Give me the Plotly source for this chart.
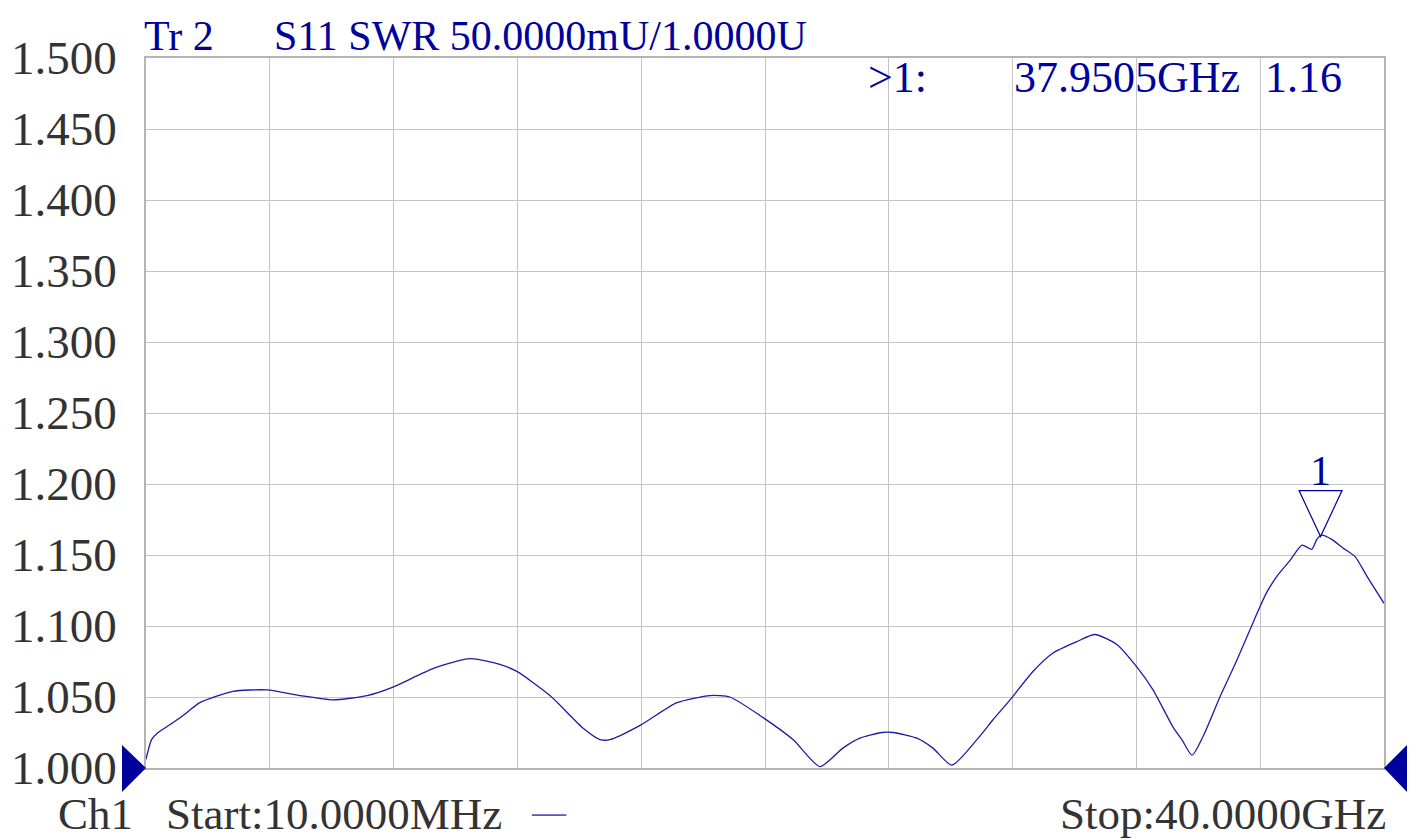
import plotly.graph_objects as go

# ---- data ----
freq_ghz = [0.01, 0.03, 0.19, 0.40, 0.68, 1.21, 1.75, 2.82, 3.92, 4.99, 6.05, 7.15, 7.99,
            9.28, 10.48, 11.44, 11.99, 13.06, 14.13, 14.68, 15.00, 15.97, 17.16, 18.23,
            18.87, 19.84, 20.91, 21.78, 22.52, 23.07, 23.78, 24.14, 24.91, 25.43, 26.04,
            26.85, 27.37, 27.92, 28.66, 29.31, 30.08, 30.66, 31.37, 32.02, 32.54, 33.18,
            33.47, 33.80, 34.15, 34.70, 35.25, 35.90, 36.22, 36.54, 36.96, 37.35, 37.67,
            37.83, 37.99, 38.31, 38.67, 39.06, 39.45, 40.00]
swr = [1.006, 1.008, 1.020, 1.025, 1.029, 1.037, 1.046, 1.054, 1.055, 1.051, 1.048, 1.051, 1.057,
       1.070, 1.077, 1.073, 1.068, 1.051, 1.028, 1.020, 1.020, 1.030, 1.046, 1.051,
       1.050, 1.037, 1.020, 1.001, 1.014, 1.021, 1.025, 1.025, 1.021, 1.014, 1.002,
       1.020, 1.034, 1.048, 1.068, 1.081, 1.089, 1.094, 1.087, 1.071, 1.055, 1.029,
       1.020, 1.009, 1.022, 1.050, 1.076, 1.109, 1.124, 1.135, 1.146, 1.157, 1.154,
       1.161, 1.164, 1.161, 1.155, 1.149, 1.135, 1.116]

marker_freq = [37.9505]
marker_swr = [1.163]
y_ticks = [1.000, 1.050, 1.100, 1.150, 1.200, 1.250, 1.300, 1.350, 1.400, 1.450, 1.500]
y_tick_labels = ["1.000", "1.050", "1.100", "1.150", "1.200", "1.250", "1.300",
                 "1.350", "1.400", "1.450", "1.500"]
start_ghz, stop_ghz = 0.01, 40.0

# ---- layout constants ----
W, H = 1423, 840
L, R, T, B = 146, 1384, 58, 768
PW, PH = R - L, B - T
BLUE = "#00009c"
TRACE = "#1c1ca4"
GREY_TXT = "#333333"
GRID = "#c4c4c4"
FONT = "Liberation Serif"

def px(x):
    return (x - L) / PW

def py(y):
    return (B - y) / PH

fig = go.Figure()
fig.add_trace(go.Scatter(x=freq_ghz, y=swr, mode="lines",
                         line=dict(color=TRACE, width=1.3, shape="spline", smoothing=0.6),
                         hoverinfo="x+y", showlegend=False))

ann = []
def text(s, x, y, size, color, xanchor="left"):
    ann.append(dict(text=s, x=px(x), y=py(y), xref="paper", yref="paper",
                    xanchor=xanchor, yanchor="middle", showarrow=False,
                    font=dict(family=FONT, size=size, color=color)))

text("Tr\u00a02", 142, 36, 42, BLUE)
text("S11 SWR 50.0000mU/1.0000U", 272, 36, 42, BLUE)
text(">1:", 866, 78, 44, BLUE)
text(f"{marker_freq[0]:.4f}GHz", 1012, 78, 44, BLUE)
text(f"{marker_swr[0]:.2f}", 1344, 78, 44, BLUE, xanchor="right")
text("Ch1", 56, 814, 45, GREY_TXT)
text(f"Start:{start_ghz*1000:.4f}MHz", 164, 814, 45, GREY_TXT)
text("—", 529, 812, 34, "#5a5ac8")
text(f"Stop:{stop_ghz:.4f}GHz", 1388, 814, 45, GREY_TXT, xanchor="right")

# marker "1" label
ann.append(dict(text="1", x=marker_freq[0], y=marker_swr[0], xref="x", yref="y",
                xanchor="center", yanchor="middle", yshift=66, showarrow=False,
                font=dict(family=FONT, size=42, color=BLUE)))

shapes = [
    # marker triangle (outline, tip on the trace)
    dict(type="path", xref="x", yref="y", xsizemode="pixel", ysizemode="pixel",
         xanchor=marker_freq[0], yanchor=marker_swr[0],
         path="M -21.5,46 L 21.5,46 L 0,0 Z",
         line=dict(color=BLUE, width=1.2), fillcolor="rgba(0,0,0,0)"),
    # left reference triangle
    dict(type="path", xref="paper", yref="paper",
         path=f"M {px(122)},{py(745)} L {px(146)},{py(768)} L {px(122)},{py(792)} Z",
         line=dict(color=BLUE, width=0), fillcolor=BLUE),
    # right reference triangle
    dict(type="path", xref="paper", yref="paper",
         path=f"M {px(1407)},{py(745)} L {px(1384)},{py(768)} L {px(1407)},{py(792)} Z",
         line=dict(color=BLUE, width=0), fillcolor=BLUE),
]

fig.update_layout(
    width=W, height=H,
    margin=dict(l=L, r=W - R, t=T, b=H - B, pad=0, autoexpand=False),
    paper_bgcolor="white", plot_bgcolor="white",
    annotations=ann, shapes=shapes,
    xaxis=dict(range=[start_ghz, stop_ghz], tick0=start_ghz, dtick=(stop_ghz - start_ghz) / 10,
               showgrid=True, gridcolor=GRID, gridwidth=1, zeroline=False,
               showticklabels=False, ticks="", automargin=False,
               showline=True, linecolor="#b4b4b4", linewidth=1.5, mirror=True),
    yaxis=dict(range=[1.0, 1.5], tickvals=y_ticks, ticktext=y_tick_labels,
               showgrid=True, gridcolor=GRID, gridwidth=1, zeroline=False,
               ticks="", ticklabelstandoff=18, automargin=False,
               tickfont=dict(family=FONT, size=47, color=GREY_TXT),
               showline=True, linecolor="#b4b4b4", linewidth=1.5, mirror=True),
)

fig.write_html("out.html", config={"displayModeBar": False},
               post_script="document.body.style.margin='0';document.body.style.overflow='hidden';")
